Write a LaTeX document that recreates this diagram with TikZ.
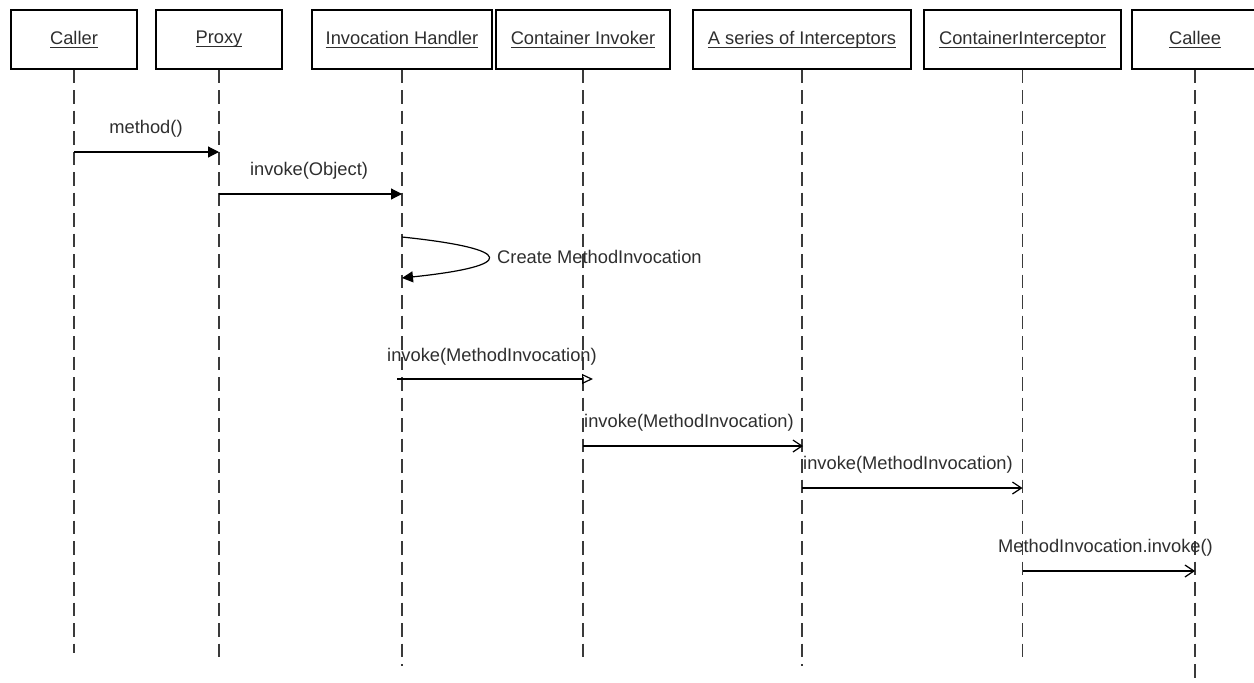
\documentclass[tikz,border=0pt]{standalone}
\usepackage{fontspec}
\setmainfont{Liberation Sans}
\usetikzlibrary{arrows.meta}
\definecolor{inkgray}{HTML}{2E2E2E}
\definecolor{linegray}{HTML}{3A3A3A}
% underlined header text with the rule a little below the baseline
\newcommand\hdrline[1]{\setbox0\hbox{#1}\rlap{\rule[-3.6pt]{\wd0}{1.3pt}}\box0}
\begin{document}
\begin{tikzpicture}[x=1pt,y=-1pt,
  font=\fontsize{18.3}{22}\selectfont,
  every node/.style={text=inkgray},
  hdr/.style={draw=black, line width=1.1pt, minimum height=59pt, inner sep=0pt},
  life/.style={draw=linegray, line width=1.5pt, dash pattern=on 13.5pt off 7pt},
  msgfill/.style={draw=black, line width=1.2pt, -{Triangle[length=11pt,width=11pt]}},
  msgopen/.style={draw=black, line width=1.2pt, -{Triangle[open,length=11pt,width=10pt]}},
  msgstick/.style={draw=black, line width=1.2pt, -{Straight Barb[length=9pt,width=12pt]}},
  lbl/.style={inner sep=0pt, anchor=base west},
  lblc/.style={inner sep=0pt, anchor=base}]
\useasboundingbox (0,0) rectangle (1254,683);

% lifeline heads
\node[hdr, minimum width=126pt] (caller) at (74,39.5)   {\hdrline{Caller}};
\node[hdr, minimum width=126pt] (proxy)  at (219,39.5)  {\hdrline{Proxy}};
\node[hdr, minimum width=180pt] (ih)     at (402,39.5)  {\hdrline{Invocation Handler}};
\node[hdr, minimum width=174pt] (cinv)   at (583,39.5)  {\hdrline{Container Invoker}};
\node[hdr, minimum width=218pt] (ser)    at (802,39.5)  {\hdrline{A series of Interceptors}};
\node[hdr, minimum width=197pt] (cint)   at (1022.5,39.5) {\hdrline{ContainerInterceptor}};
\node[hdr, minimum width=126pt] (callee) at (1195,39.5) {\hdrline{Callee}};

% dashed lifelines
\draw[life] (caller.south) -- ++(0,583);
\draw[life] (proxy.south)  -- ++(0,591);
\draw[life] (ih.south)     -- ++(0,596);
\draw[life] (cinv.south)   -- ++(0,591);
\draw[life] (ser.south)    -- ++(0,596);
\draw[life] (cint.south)   -- ++(0,591);
\draw[life] (callee.south) -- ++(0,625);

% message rows
\coordinate (r1) at (0,152);
\coordinate (r2) at (0,194);
\coordinate (r3a) at (0,237);
\coordinate (r3b) at (0,278);
\coordinate (r4) at (0,379);
\coordinate (r5) at (0,446);
\coordinate (r6) at (0,488);
\coordinate (r7) at (0,571);

% messages
\draw[msgfill] (caller |- r1) -- (proxy |- r1);
\node[lblc] (l1) at (146,133) {method()};

\draw[msgfill] (proxy |- r2) -- (ih |- r2);
\node[lblc] (l2) at (309,175) {invoke(Object)};

\draw[msgfill] (ih |- r3a) .. controls (517,249) and (517,266) .. (ih |- r3b);
\node[lbl] (l3) at (497,263) {Create MethodInvocation};

\draw[msgopen] ([xshift=-5pt]ih |- r4) -- ([xshift=10pt]cinv |- r4);
\node[lbl] (l4) at (387,361) {invoke(MethodInvocation)};

\draw[msgstick] (cinv |- r5) -- ([xshift=1pt]ser |- r5);
\node[lbl] (l5) at (584,427) {invoke(MethodInvocation)};

\draw[msgstick] (ser |- r6) -- (cint |- r6);
\node[lbl] (l6) at (803,469) {invoke(MethodInvocation)};

\draw[msgstick] (cint |- r7) -- (callee |- r7);
\node[lbl] (l7) at (998,552) {MethodInvocation.invoke()};
\end{tikzpicture}
\end{document}
